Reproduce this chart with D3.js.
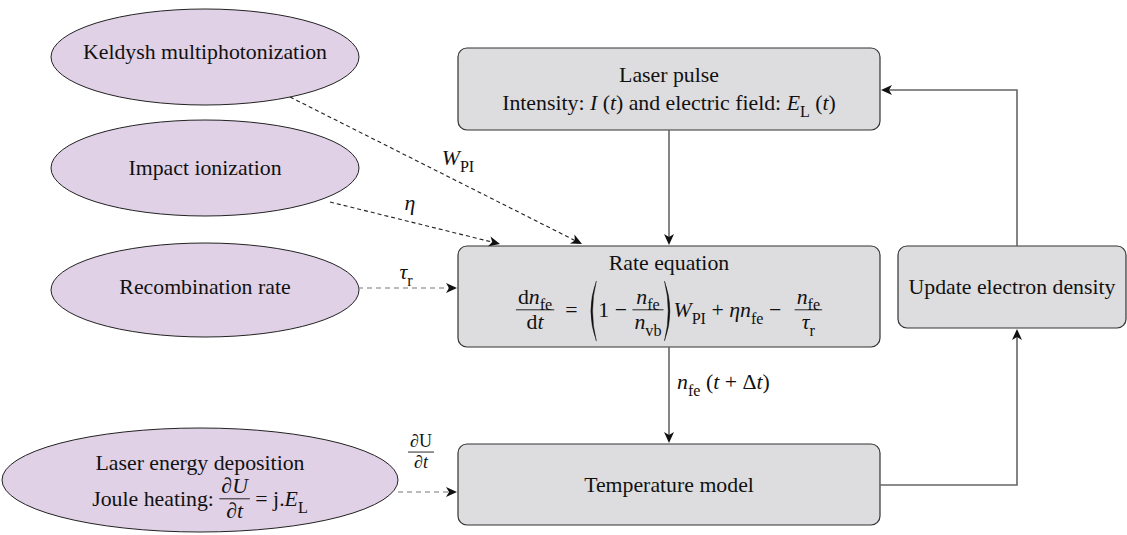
<!DOCTYPE html>
<html>
<head>
<meta charset="utf-8">
<script src="https://cdn.jsdelivr.net/npm/d3@7"></script>
<style>
  body { margin: 0; background: #fff; }
  svg { display: block; }
  text { font-family: "Liberation Serif", "Times New Roman", serif; fill: #111; white-space: pre; }
</style>
</head>
<body>
<div id="chart"></div>
<script>
// text parts: [string, kind]  r = roman, i = italic, s = subscript
const processes = [
  { id: "keldysh", lines: [[["Keldysh multiphotonization", "r"]]] },
  { id: "impact", lines: [[["Impact ionization", "r"]]] },
  { id: "recomb", lines: [[["Recombination rate", "r"]]] },
  { id: "joule", lines: [[["Laser energy deposition", "r"]], "joule"] }
]

const stages = [
  { id: "pulse", lines: [[["Laser pulse", "r"]],
    [["Intensity: ", "r"], ["I", "i"], [" (", "r"], ["t", "i"], [") and electric field: ", "r"], ["E", "i"], ["L", "s"], [" (", "r"], ["t", "i"], [")", "r"]]] },
  { id: "rate", lines: [[["Rate equation", "r"]], "rate"] },
  { id: "temp", lines: [[["Temperature model", "r"]]] },
  { id: "update", lines: [[["Update electron density", "r"]]] }
]

const links = [
  { from: "keldysh", to: "rate", label: [["W", "i"], ["PI", "s"]], style: "dashDark" },
  { from: "impact", to: "rate", label: [["η", "i"]], style: "dashDark" },
  { from: "recomb", to: "rate", label: [["τ", "i"], ["r", "s"]], style: "dashGray" },
  { from: "joule", to: "temp", label: "dUdt", style: "dashGray" },
  { from: "pulse", to: "rate", label: null, style: "solid" },
  { from: "rate", to: "temp", label: [["n", "i"], ["fe", "s"], [" (", "r"], ["t", "i"], [" + Δ", "r"], ["t", "i"], [")", "r"]], style: "solid" },
  { from: "temp", to: "update", label: null, style: "solid" },
  { from: "update", to: "pulse", label: null, style: "solid" }
]

// layout (pixel geometry of the diagram)
const W = 1127, H = 535, FS = 21.8
const FONT = "Liberation Serif, Times New Roman, serif"
const ellipsePos = {
  keldysh: { cx: 205, cy: 57, rx: 154, ry: 48, base: [59] },
  impact: { cx: 205, cy: 168, rx: 154, ry: 48, base: [175] },
  recomb: { cx: 205, cy: 290, rx: 154, ry: 47, base: [294] },
  joule: { cx: 200, cy: 480, rx: 198, ry: 52, base: [470, 506] }
}
const boxPos = {
  pulse: { x: 458, y: 48, w: 422, h: 82, base: [82, 110] },
  rate: { x: 458, y: 246, w: 422, h: 101, base: [270, 317] },
  temp: { x: 458, y: 444, w: 422, h: 81, base: [492] },
  update: { x: 898, y: 246, w: 228, h: 82, base: [294] }
}
const linkPath = {
  keldysh: [[290, 97], [582, 244]],
  impact: [[330, 202], [500, 244]],
  recomb: [[358, 288], [457, 288]],
  joule: [[398, 492], [457, 492]],
  pulse: [[669, 130], [669, 245]],
  rate: [[669, 347], [669, 443]],
  temp: [[880, 485], [1017, 485], [1017, 329]],
  update: [[1017, 246], [1017, 90], [881, 90]]
}
const labelPos = {
  keldysh: { x: 458, y: 165, anchor: "middle" },
  impact: { x: 410, y: 210, anchor: "middle" },
  recomb: { x: 406, y: 279, anchor: "middle" },
  joule: { x: 421, y: 452 },
  rate: { x: 677, y: 389, anchor: "start" }
}
const linkStyle = {
  dashDark: { stroke: "#222", width: 1.1, dash: "4,3" },
  dashGray: { stroke: "#777", width: 1.2, dash: "5,4" },
  solid: { stroke: "#666", width: 1.6, dash: null }
}

const svg = d3.select("#chart").append("svg").attr("width", W).attr("height", H)
  .attr("font-family", FONT)

function rich(sel, parts, size) {
  const t = sel.append("text").attr("font-size", size).attr("font-family", FONT)
    .attr("xml:space", "preserve")
  let shift = 0
  parts.forEach(([s, k]) => {
    const want = k === "s" ? size * 0.3 : 0
    t.append("tspan")
      .attr("dy", want - shift)
      .attr("font-style", k === "i" ? "italic" : null)
      .attr("font-size", k === "s" ? size * 0.74 : null)
      .text(s)
    shift = want
  })
  return t
}

// lay out a small formula left to right, baseline at y = 0
function formula(sel, items, size) {
  const g = sel.append("g")
  const axis = -size * 0.33
  let x = 0
  items.forEach(it => {
    if (it.t === "text") {
      const t = rich(g, it.parts, size).attr("x", x).attr("y", 0)
      x += t.node().getComputedTextLength()
    } else if (it.t === "frac") {
      const n = rich(g, it.num, size).attr("text-anchor", "middle")
      const d = rich(g, it.den, size).attr("text-anchor", "middle")
      const w = Math.max(n.node().getComputedTextLength(), d.node().getComputedTextLength()) + 4
      n.attr("x", x + w / 2).attr("y", axis - size * 0.28)
      d.attr("x", x + w / 2).attr("y", axis + size * 0.9)
      g.append("line").attr("x1", x).attr("x2", x + w).attr("y1", axis).attr("y2", axis)
        .attr("stroke", "#111").attr("stroke-width", 0.9)
      x += w
    } else if (it.t === "paren") {
      const top = -size * 1.65, bot = size * 1.1, mid = (top + bot) / 2
      const p = it.ch === "("
        ? `M${x + 8},${top} Q${x - 3},${mid} ${x + 8},${bot} Q${x + 0.5},${mid} ${x + 8},${top} Z`
        : `M${x + 1},${top} Q${x + 12},${mid} ${x + 1},${bot} Q${x + 8.5},${mid} ${x + 1},${top} Z`
      g.append("path").attr("d", p).attr("fill", "#111").attr("stroke", "#111").attr("stroke-width", 0.4)
      x += 10
    } else if (it.t === "gap") {
      x += it.w
    }
  })
  return { g, width: x }
}

const nfe = [["n", "i"], ["fe", "s"]]
const formulas = {
  rate: [
    { t: "frac", num: [["d", "r"], ...nfe], den: [["d", "r"], ["t", "i"]] },
    { t: "text", parts: [["  =  ", "r"]] },
    { t: "paren", ch: "(" },
    { t: "text", parts: [["1 − ", "r"]] },
    { t: "frac", num: nfe, den: [["n", "i"], ["vb", "s"]] },
    { t: "paren", ch: ")" },
    { t: "text", parts: [["W", "i"], ["PI", "s"], [" + ", "r"], ["η", "i"], ...nfe, [" − ", "r"]] },
    { t: "gap", w: 8 },
    { t: "frac", num: nfe, den: [["τ", "i"], ["r", "s"]] }
  ],
  joule: [
    { t: "text", parts: [["Joule heating: ", "r"]] },
    { t: "frac", num: [["∂", "r"], ["U", "i"]], den: [["∂", "r"], ["t", "i"]] },
    { t: "text", parts: [[" = j.", "r"], ["E", "i"], ["L", "s"]] }
  ],
  dUdt: [
    { t: "frac", num: [["∂U", "r"]], den: [["∂", "r"], ["t", "i"]] }
  ]
}

function writeLines(g, lines, cx, bases) {
  lines.forEach((line, i) => {
    if (typeof line === "string") {
      const f = formula(g, formulas[line], FS)
      f.g.attr("transform", `translate(${cx - f.width / 2},${bases[i]})`)
    } else {
      rich(g, line, FS).attr("x", cx).attr("y", bases[i]).attr("text-anchor", "middle")
    }
  })
}

// ellipses
const eg = svg.append("g")
processes.forEach(p => {
  const e = ellipsePos[p.id]
  eg.append("ellipse").attr("cx", e.cx).attr("cy", e.cy).attr("rx", e.rx).attr("ry", e.ry)
    .attr("fill", "#e1d1e6").attr("stroke", "#222").attr("stroke-width", 1)
  writeLines(eg, p.lines, e.cx, e.base)
})

// boxes
const bg = svg.append("g")
stages.forEach(s => {
  const b = boxPos[s.id]
  bg.append("rect").attr("x", b.x).attr("y", b.y).attr("width", b.w).attr("height", b.h)
    .attr("rx", 9).attr("fill", "#dddddf").attr("stroke", "#333").attr("stroke-width", 1.2)
  writeLines(bg, s.lines, b.x + b.w / 2, b.base)
})

// links
const lg = svg.append("g")
const line = d3.line()
links.forEach(l => {
  const pts = linkPath[l.from]
  const st = linkStyle[l.style]
  const a = pts[pts.length - 2], b = pts[pts.length - 1]
  const ang = Math.atan2(b[1] - a[1], b[0] - a[0])
  const back = 8
  const trimmed = pts.slice(0, -1).concat([[b[0] - back * Math.cos(ang), b[1] - back * Math.sin(ang)]])
  lg.append("path").attr("d", line(trimmed)).attr("fill", "none")
    .attr("stroke", st.stroke).attr("stroke-width", st.width).attr("stroke-dasharray", st.dash)
  lg.append("path").attr("d", "M0,0 L-11,-5 L-8,0 L-11,5 Z").attr("fill", "#111")
    .attr("transform", `translate(${b[0]},${b[1]}) rotate(${ang * 180 / Math.PI})`)

  if (l.label) {
    const lp = labelPos[l.from]
    if (typeof l.label === "string") {
      const f = formula(lg, formulas[l.label], 18)
      f.g.attr("transform", `translate(${lp.x - f.width / 2},${lp.y + 6})`)
    } else {
      rich(lg, l.label, FS).attr("x", lp.x).attr("y", lp.y).attr("text-anchor", lp.anchor)
    }
  }
})
</script>
</body>
</html>
